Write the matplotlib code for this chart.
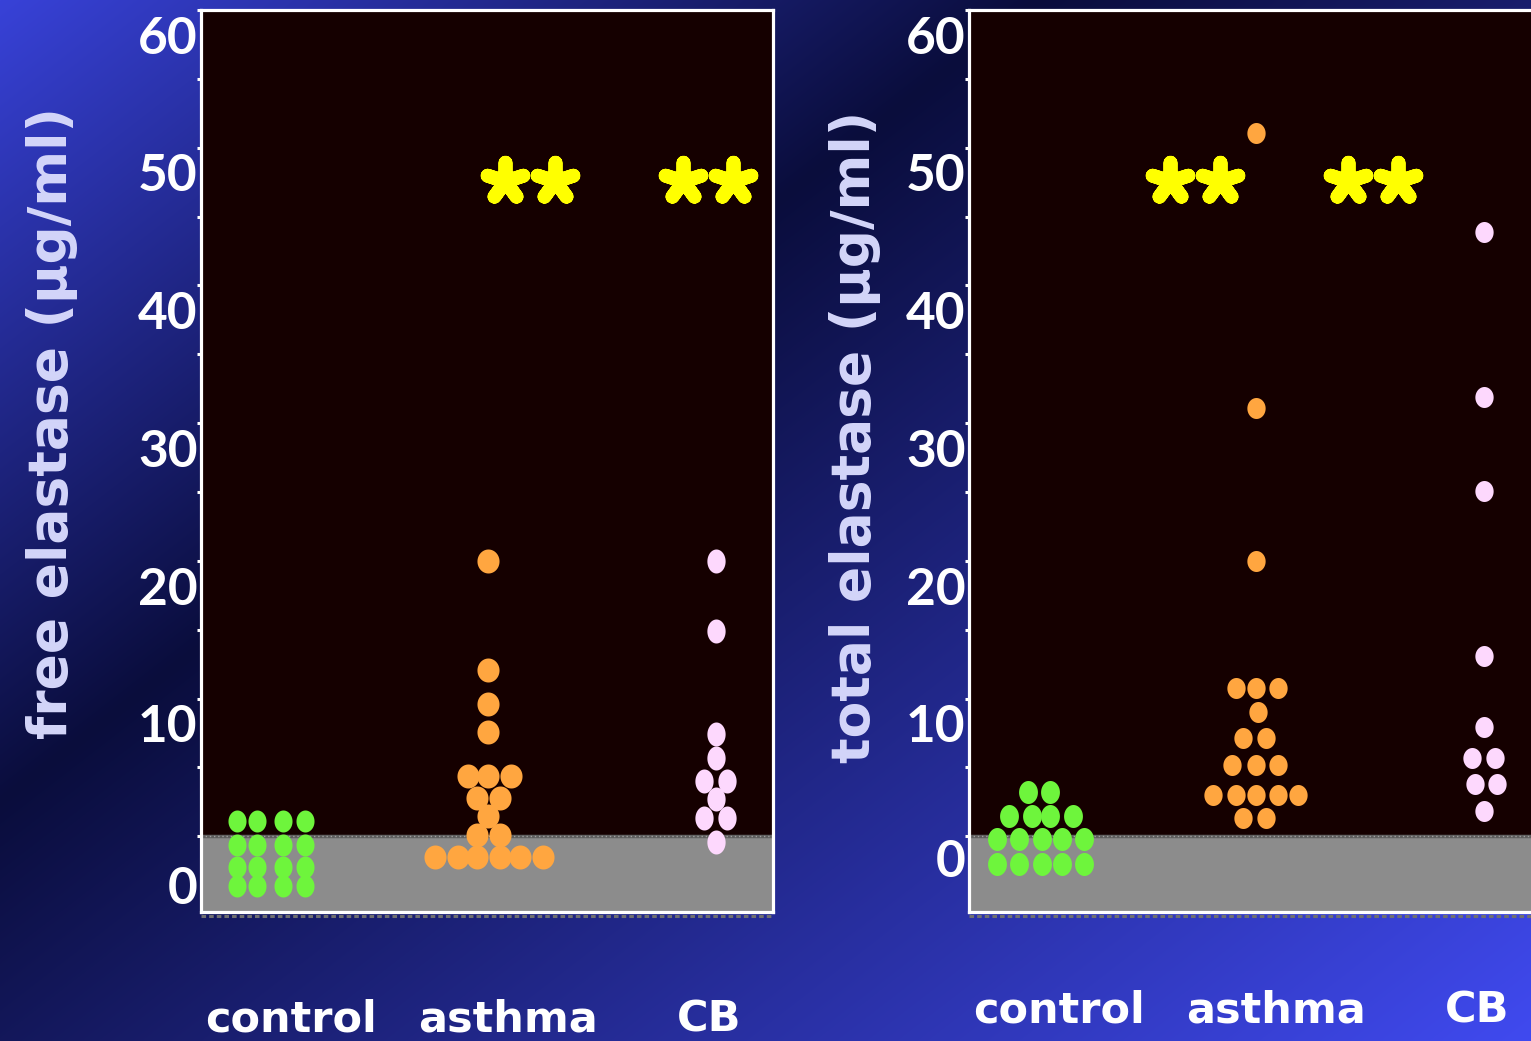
import numpy as np
import matplotlib.pyplot as plt
from matplotlib.markers import MarkerStyle
from matplotlib.transforms import ScaledTranslation, blended_transform_factory

# free elastase (ug/ml), one entry per subject; dx = sideways shift inside the swarm
free_control = [1.1, 1.1, 1.1, 1.1, -0.6, -0.6, -0.6, -0.6,
                -2.2, -2.2, -2.2, -2.2, -3.6, -3.6, -3.6, -3.6]
free_control_dx = [-0.157, -0.065, 0.055, 0.157, -0.157, -0.065, 0.055, 0.157,
                   -0.157, -0.065, 0.055, 0.157, -0.157, -0.065, 0.055, 0.157]
free_asthma = [20.0, 12.1, 9.6, 7.6, 4.4, 4.4, 4.4, 2.8, 2.8, 1.5, 0.1, 0.1,
               -1.5, -1.5, -1.5, -1.5, -1.5, -1.5]
free_asthma_dx = [0, 0, 0, 0, -0.094, 0, 0.106, -0.05, 0.053, 0, -0.05, 0.053,
                  -0.246, -0.14, -0.05, 0.053, 0.146, 0.252]
free_cb = [20.0, 14.9, 7.4, 5.7, 4.0, 4.0, 2.7, 1.3, 1.3, -0.4]
free_cb_dx = [0, 0, 0, 0, -0.057, 0.051, 0, -0.057, 0.051, 0]

# total elastase (ug/ml)
total_control = [3.2, 3.2, 1.5, 1.5, 1.5, 1.5, -0.2, -0.2, -0.2, -0.2, -0.2,
                 -2.0, -2.0, -2.0, -2.0, -2.0]
total_control_dx = [-0.049, 0.051, -0.138, -0.034, 0.051, 0.158,
                    -0.195, -0.091, 0.012, 0.107, 0.209,
                    -0.195, -0.091, 0.012, 0.107, 0.209]
total_asthma = [51.1, 31.1, 20.0, 10.8, 10.8, 10.8, 9.0, 7.1, 7.1, 5.2, 5.2, 5.2,
                3.0, 3.0, 3.0, 3.0, 3.0, 1.3, 1.3]
total_asthma_dx = [0, 0, 0, -0.092, 0, 0.1, 0.009, -0.059, 0.045, -0.109, 0, 0.1,
                   -0.2, -0.092, 0, 0.1, 0.192, -0.059, 0.045]
total_cb = [43.9, 31.9, 25.1, 13.1, 7.9, 5.7, 5.7, 3.8, 3.8, 1.8]
total_cb_dx = [0, 0, 0, 0, 0, -0.054, 0.049, -0.043, 0.061, 0]

groups = ["control", "asthma", "CB"]
group_pos = [0, 1, 2.05]
yticks = [0, 10, 20, 30, 40, 50, 60]
star_level = 47.6

W, H = 1531, 1041
fig = plt.figure(figsize=(W / 100, H / 100), dpi=100)

# backdrop: blue gradient, darkest along a diagonal band
yy, xx = np.mgrid[0:H, 0:W]
d = 0.61 * xx + 0.79 * (yy - 800)
dark = np.array([10, 13, 60]) / 255
top_bright = np.array([56, 66, 216]) / 255
bot_bright = np.array([64, 74, 240]) / 255
t_up = np.clip(-d / 632, 0, 1)[..., None]
t_dn = np.clip(d / 1124, 0, 1)[..., None]
img = np.where(d[..., None] < 0, dark + t_up * (top_bright - dark),
               dark + t_dn * (bot_bright - dark))
bg = fig.add_axes([0, 0, 1, 1], zorder=-10)
bg.imshow(img, aspect="auto", extent=(0, W, H, 0), interpolation="bilinear")
bg.set_axis_off()

colors = {"control": "#6ef53c", "asthma": "#ffa640", "CB": "#fdd8fd"}


def ellipse(aspect):
    th = np.linspace(0, 2 * np.pi, 60)
    return MarkerStyle(list(zip(aspect * np.cos(th), np.sin(th))))


star = MarkerStyle((5, 2, 0), capstyle="round", joinstyle="round")
NUM_FONT = ["Lato", "DejaVu Sans"]
TXT_FONT = ["DejaVu Sans"]


def panel(left_px, ylabel, ylabel_xy, series, shapes, star_x, zero_drop, cat_base):
    ax = fig.add_axes([left_px / W, 1 - 912 / H, 572 / W, 902 / H])
    ax.set_facecolor("#150000")
    ax.set_xlim(-0.323, 2.313)
    ax.set_ylim(-5.5, 60)
    ax.axhspan(-5.5, 0, color="#8c8c8c", zorder=1)
    ax.axhline(0, color="#5e5e5e", lw=2.5, zorder=1.5)
    ax.axhline(0, color="#a0a0a0", lw=1, ls=(0, (1, 2)), zorder=1.6)
    # dotted edge just under the frame
    ax.axhline(-5.78, color="#707070", lw=2.2, ls=(0, (1.5, 1)), clip_on=False, zorder=1)

    for name, pos, (vals, dx), (asp, ms) in zip(groups, group_pos, series, shapes):
        ax.plot([pos + o for o in dx], vals, ls="none", marker=ellipse(asp),
                ms=ms * 0.72, mec="none", color=colors[name], zorder=3)

    for sx in star_x:
        ax.plot([sx - 0.115, sx + 0.115], [star_level, star_level], ls="none",
                marker=star, ms=27, mew=10, color="#ffff00", zorder=4)

    for s in ax.spines.values():
        s.set_color("white")
        s.set_linewidth(2.3)
        s.set_zorder(5)
    ax.set_yticks(range(0, 61, 5))
    ax.set_xticks([])
    ax.tick_params(axis="y", length=3, width=2.2, color="white", labelleft=False)

    lab_tr = blended_transform_factory(ax.transAxes, ax.transData)
    for v in yticks:
        drop = zero_drop if v == 0 else 21
        ax.text(-0.006, v, str(v), ha="right", va="center", color="white",
                fontsize=37, fontweight="bold", family=NUM_FONT,
                transform=lab_tr + ScaledTranslation(0, -drop / 72, fig.dpi_scale_trans))

    cat_tr = blended_transform_factory(ax.transData, ax.transAxes)
    for name, x in zip(groups, [0.09, 1.09, 2.02]):
        ax.text(x, cat_base, name, ha="center", va="baseline", color="white",
                fontsize=31, fontweight="bold", family=TXT_FONT, transform=cat_tr)

    fig.text(ylabel_xy[0] / W, 1 - ylabel_xy[1] / H, ylabel, rotation=90,
             ha="center", va="center", color="#d4d6fa", fontsize=38.5,
             fontweight="bold", family=TXT_FONT)
    return ax


panel(201, "free elastase (\u00b5g/ml)", (52, 423),
      [(free_control, free_control_dx), (free_asthma, free_asthma_dx), (free_cb, free_cb_dx)],
      [(0.82, 22), (0.92, 24), (0.76, 24)],
      [1.193, 2.013], 38, -0.133)

panel(969, "total elastase (\u00b5g/ml)", (855, 437),
      [(total_control, total_control_dx), (total_asthma, total_asthma_dx), (total_cb, total_cb_dx)],
      [(0.82, 23), (0.87, 21), (0.87, 21)],
      [0.718, 1.538], 19, -0.122)

fig.savefig("out.png", dpi=100)
